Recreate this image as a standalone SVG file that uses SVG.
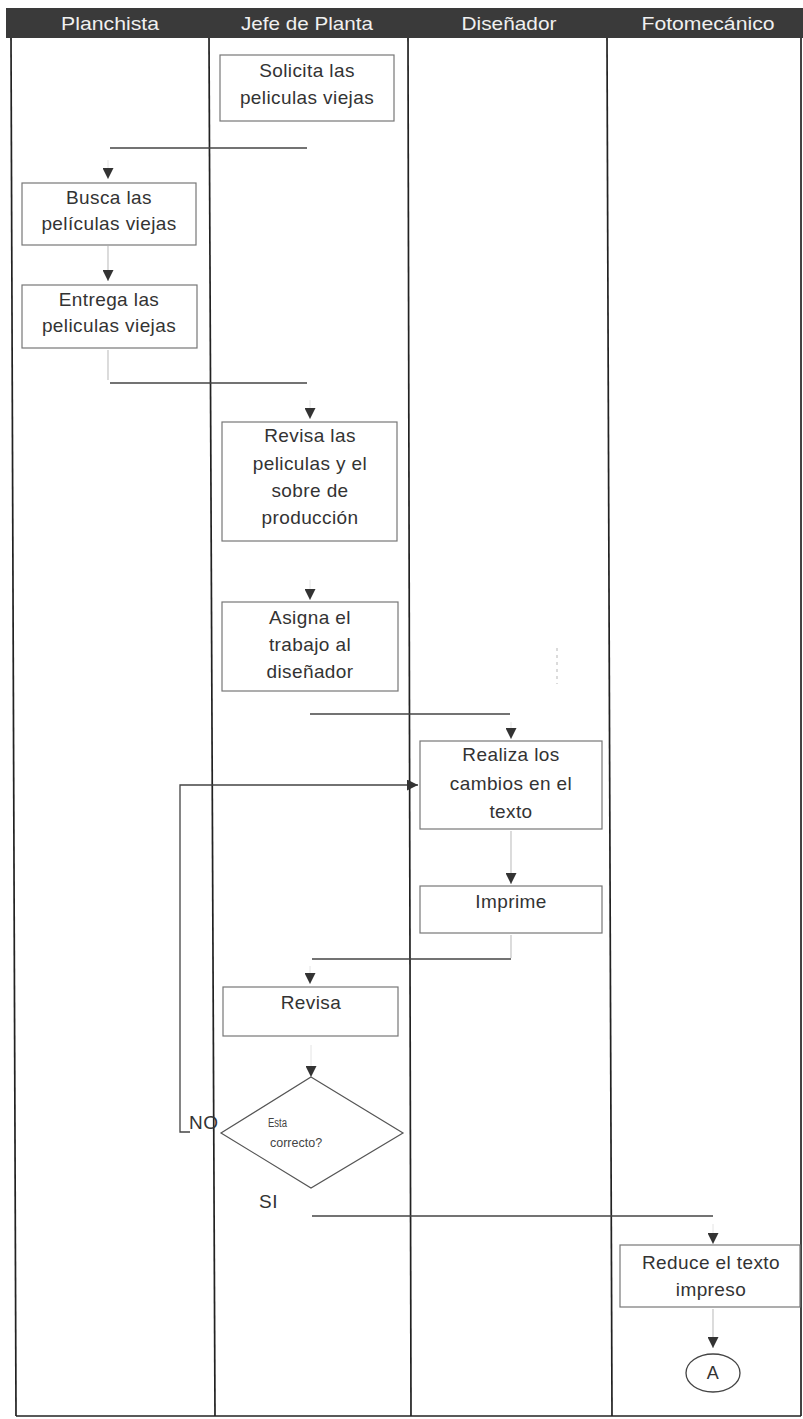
<svg xmlns="http://www.w3.org/2000/svg" width="803" height="1419" viewBox="0 0 803 1419">
  <style>
    .lane { stroke: #222; stroke-width: 1.7; fill: none; }
    .hdr { fill: #f0f0f0; font-family: "Liberation Sans", Arial, sans-serif; font-size: 19px; text-anchor: middle; }
    .box { fill: #fff; stroke: #777; stroke-width: 1.2; }
    .txt { fill: #333; font-family: "Liberation Sans", Arial, sans-serif; font-size: 19px; text-anchor: middle; letter-spacing: 0.4px; }
    .small { fill: #444; font-family: "Liberation Sans", Arial, sans-serif; font-size: 12.5px; }
    .lbl { fill: #333; font-family: "Liberation Sans", Arial, sans-serif; font-size: 19px; letter-spacing: 0.5px; }
    .flow { stroke: #444; stroke-width: 1.3; fill: none; }
    .stub { stroke: #c4c4c4; stroke-width: 1.2; fill: none; }
    .lead { stroke: #e4e4e4; stroke-width: 1; fill: none; }
  </style>
  <defs>
    <marker id="arr" viewBox="0 0 10 10" refX="10" refY="5" markerWidth="12" markerHeight="11" markerUnits="userSpaceOnUse" orient="auto">
      <path d="M0,0 L10,5 L0,10 z" fill="#333"/>
    </marker>
  </defs>

  <rect x="0" y="0" width="803" height="1419" fill="#fff"/>

  <!-- swimlane header and frame -->
  <g id="lanes">
    <rect x="6" y="8" width="797" height="30" fill="#3a3a3a"/>
    <text class="hdr" x="110" y="30" textLength="98" lengthAdjust="spacingAndGlyphs">Planchista</text>
    <text class="hdr" x="307" y="30" textLength="132" lengthAdjust="spacingAndGlyphs">Jefe de Planta</text>
    <text class="hdr" x="509" y="30" textLength="95" lengthAdjust="spacingAndGlyphs">Diseñador</text>
    <text class="hdr" x="708" y="30" textLength="133" lengthAdjust="spacingAndGlyphs">Fotomecánico</text>
    <line class="lane" x1="11" y1="38" x2="16" y2="1416"/>
    <line class="lane" x1="209" y1="38" x2="215" y2="1416"/>
    <line class="lane" x1="408" y1="38" x2="411" y2="1416"/>
    <line class="lane" x1="607" y1="38" x2="612" y2="1416"/>
    <line class="lane" x1="801" y1="38" x2="801" y2="1416"/>
    <line class="lane" x1="16" y1="1416" x2="801" y2="1416"/>
  </g>

  <!-- connectors -->
  <g id="connectors">
    <polyline class="flow" points="307,148 110,148"/>
    <line class="lead" x1="108" y1="160" x2="108" y2="179" marker-end="url(#arr)"/>
    <line class="stub" x1="108" y1="246" x2="108" y2="281" marker-end="url(#arr)"/>
    <line class="stub" x1="108" y1="350" x2="108" y2="380"/>
    <polyline class="flow" points="110,383 307,383"/>
    <line class="lead" x1="310" y1="400" x2="310" y2="419" marker-end="url(#arr)"/>
    <line class="lead" x1="310" y1="580" x2="310" y2="600" marker-end="url(#arr)"/>
    <line class="stub" x1="557" y1="648" x2="557" y2="684" stroke-dasharray="3,4"/>
    <polyline class="flow" points="310,714 510,714"/>
    <line class="lead" x1="511" y1="722" x2="511" y2="739" marker-end="url(#arr)"/>
    <polyline class="flow" points="190,1132 180,1132 180,785 418,785" marker-end="url(#arr)"/>
    <line class="stub" x1="511" y1="831" x2="511" y2="884" marker-end="url(#arr)"/>
    <line class="stub" x1="511" y1="935" x2="511" y2="958"/>
    <polyline class="flow" points="511,959 312,959"/>
    <line class="lead" x1="310" y1="966" x2="310" y2="984" marker-end="url(#arr)"/>
    <line class="lead" x1="311" y1="1045" x2="311" y2="1077" marker-end="url(#arr)"/>
    <polyline class="flow" points="312,1216 713,1216"/>
    <line class="lead" x1="713" y1="1224" x2="713" y2="1244" marker-end="url(#arr)"/>
    <line class="stub" x1="713" y1="1309" x2="713" y2="1348" marker-end="url(#arr)"/>
  </g>

  <g id="solicita">
    <rect class="box" x="220" y="55" width="174" height="66"/>
    <text class="txt" x="307" y="77">Solicita las</text>
    <text class="txt" x="307" y="104">peliculas viejas</text>
  </g>

  <g id="busca">
    <rect class="box" x="22" y="183" width="174" height="62"/>
    <text class="txt" x="109" y="204">Busca las</text>
    <text class="txt" x="109" y="230">películas viejas</text>
  </g>

  <g id="entrega">
    <rect class="box" x="22" y="285" width="175" height="63"/>
    <text class="txt" x="109" y="306">Entrega las</text>
    <text class="txt" x="109" y="332">peliculas viejas</text>
  </g>

  <g id="revisa-peliculas">
    <rect class="box" x="222" y="422" width="175" height="119"/>
    <text class="txt" x="310" y="442">Revisa las</text>
    <text class="txt" x="310" y="470">peliculas y el</text>
    <text class="txt" x="310" y="497">sobre de</text>
    <text class="txt" x="310" y="524">producción</text>
  </g>

  <g id="asigna">
    <rect class="box" x="222" y="602" width="176" height="89"/>
    <text class="txt" x="310" y="624">Asigna el</text>
    <text class="txt" x="310" y="651">trabajo al</text>
    <text class="txt" x="310" y="678">diseñador</text>
  </g>

  <g id="realiza">
    <rect class="box" x="420" y="741" width="182" height="88"/>
    <text class="txt" x="511" y="761">Realiza los</text>
    <text class="txt" x="511" y="790">cambios en el</text>
    <text class="txt" x="511" y="818">texto</text>
  </g>

  <g id="imprime">
    <rect class="box" x="420" y="886" width="182" height="47"/>
    <text class="txt" x="511" y="908">Imprime</text>
  </g>

  <g id="revisa">
    <rect class="box" x="223" y="987" width="175" height="49"/>
    <text class="txt" x="311" y="1009">Revisa</text>
  </g>

  <g id="decision">
    <polygon points="311,1077 403,1133 311,1188 221,1133" fill="#fff" stroke="#555" stroke-width="1.2"/>
    <text class="small" x="268" y="1127" textLength="19" lengthAdjust="spacingAndGlyphs">Esta</text>
    <text class="small" x="270" y="1147">correcto?</text>
    <text class="lbl" x="189" y="1129">NO</text>
    <text class="lbl" x="259" y="1208">SI</text>
  </g>

  <g id="reduce">
    <rect class="box" x="620" y="1245" width="180" height="62"/>
    <text class="txt" x="711" y="1269">Reduce el texto</text>
    <text class="txt" x="711" y="1296">impreso</text>
  </g>

  <g id="conector-a">
    <ellipse cx="713" cy="1373" rx="27" ry="19" fill="#fff" stroke="#444" stroke-width="1.3"/>
    <text class="txt" x="713" y="1379" style="font-size:18px">A</text>
  </g>
</svg>
